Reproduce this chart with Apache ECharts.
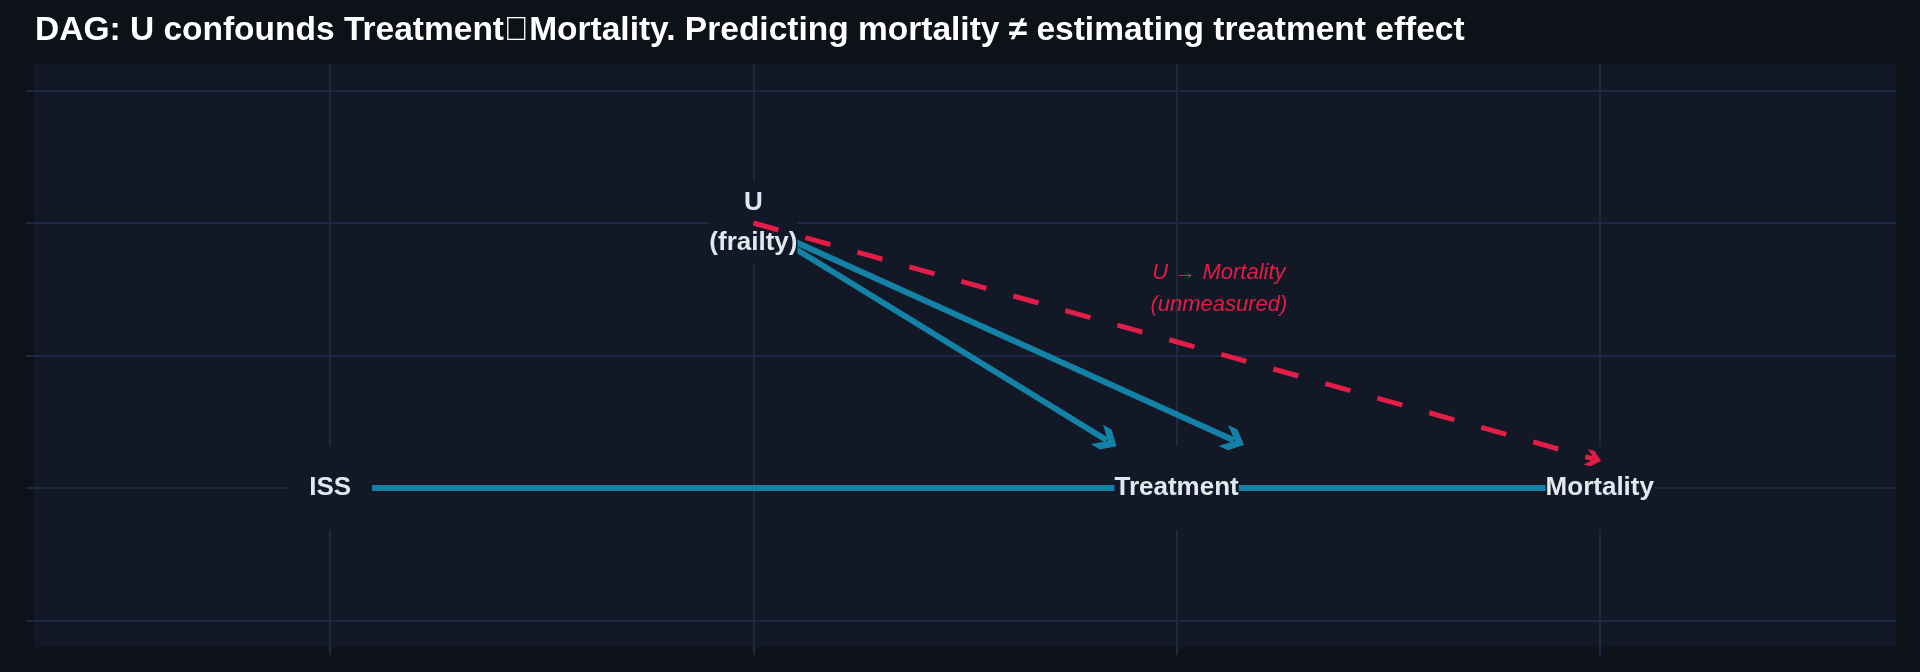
<!DOCTYPE html>
<html>
<head>
<meta charset="utf-8">
<script src="https://cdn.jsdelivr.net/npm/echarts@6/dist/echarts.min.js"></script>
<style>
  html, body { margin: 0; padding: 0; background: #0d1118; }
  #dag_chart { width: 1920px; height: 672px; }
</style>
</head>
<body>
<div id="dag_chart"></div>
<script>
// nodes of the DAG (data units)
var nodeNames = ['ISS', 'U\n(frailty)', 'Treatment', 'Mortality'];
var nodeX = [0, 1, 2, 3];
var nodeY = [0, 1, 0, 0];

// measured edges: [x0, y0, x1, y1]
var measuredEdges = [
    [0, 0, 2, 0],
    [2, 0, 3, 0],
    [0, 0, 3, 0],
    [1, 1, 1.835, 0.18],
    [1, 1, 2.135, 0.18]
];
// unmeasured confounding path U -> Mortality
var hiddenEdges = [
    [1, 1, 2.985, 0.11]
];
var noteText = 'U \u2192 Mortality\n(unmeasured)';
var notePos = [2.1, 0.75];

var xTicks = [0, 1, 2, 3];
var yTicks = [-0.5, 0, 0.5, 1, 1.5];

var plotBg = '#121826';
var gridColor = '#1d2943';
var teal = '#1482a6';
var red = '#e11d48';
var font = '"Liberation Sans", Arial, sans-serif';
// open chevron arrow head, tip pointing up
var chevron = 'path://M0,10 L10,0 L20,10 L20,18 L10,8 L0,18 Z';

function toLines(list) {
    return list.map(function (e) {
        return { coords: [[e[0], e[1]], [e[2], e[3]]] };
    });
}

var nodeData = nodeNames.map(function (n, i) {
    return { name: n, value: [nodeX[i], nodeY[i]] };
});

function axisCfg(min, max, ticks) {
    return {
        type: 'value',
        min: min,
        max: max,
        axisLine: { show: false, onZero: false },
        axisLabel: { show: false },
        axisTick: { show: true, length: 8, customValues: ticks, lineStyle: { color: gridColor, width: 2 } },
        splitLine: { show: true, lineStyle: { color: gridColor, width: 2 } }
    };
}

var dag_option = {
    backgroundColor: '#0d1118',
    animation: false,
    title: {
        text: 'DAG: U confounds Treatment\uE000Mortality. Predicting mortality \u2260 estimating treatment effect',
        left: 30,
        top: 9,
        textStyle: { color: '#ffffff', fontSize: 33.5, fontWeight: 'bold', fontFamily: font }
    },
    grid: {
        left: 34, right: 24, top: 64, bottom: 25,
        show: true, backgroundColor: plotBg, borderWidth: 0
    },
    xAxis: axisCfg(-0.7, 3.7, xTicks),
    yAxis: axisCfg(-0.6, 1.6, yTicks),
    series: [
        {
            type: 'lines',
            coordinateSystem: 'cartesian2d',
            z: 1,
            symbol: ['none', chevron],
            symbolSize: [25, 23],
            lineStyle: { color: teal, width: 6, opacity: 1, curveness: 0 },
            data: toLines(measuredEdges)
        },
        {
            type: 'scatter',
            z: 3,
            symbol: 'circle',
            symbolSize: 84,
            itemStyle: { color: plotBg, opacity: 1 },
            label: {
                show: true,
                position: 'inside',
                formatter: '{b}',
                color: '#e2e8f0',
                fontSize: 26,
                fontWeight: 'bold',
                fontFamily: font,
                lineHeight: 40,
                backgroundColor: plotBg
            },
            data: nodeData
        },
        {
            type: 'lines',
            coordinateSystem: 'cartesian2d',
            z: 4,
            symbol: ['none', chevron],
            symbolSize: [18, 16],
            lineStyle: { color: red, width: 5, opacity: 1, type: [26, 28], curveness: 0 },
            data: toLines(hiddenEdges)
        },
        {
            type: 'scatter',
            z: 4,
            symbolSize: 0,
            itemStyle: { opacity: 1 },
            label: {
                show: true,
                position: 'inside',
                formatter: noteText,
                color: red,
                fontSize: 22,
                fontStyle: 'italic',
                fontFamily: font,
                lineHeight: 32
            },
            data: [notePos]
        }
    ]
};

var dag_chart = echarts.init(document.getElementById('dag_chart'));
dag_chart.setOption(dag_option);
</script>
</body>
</html>
